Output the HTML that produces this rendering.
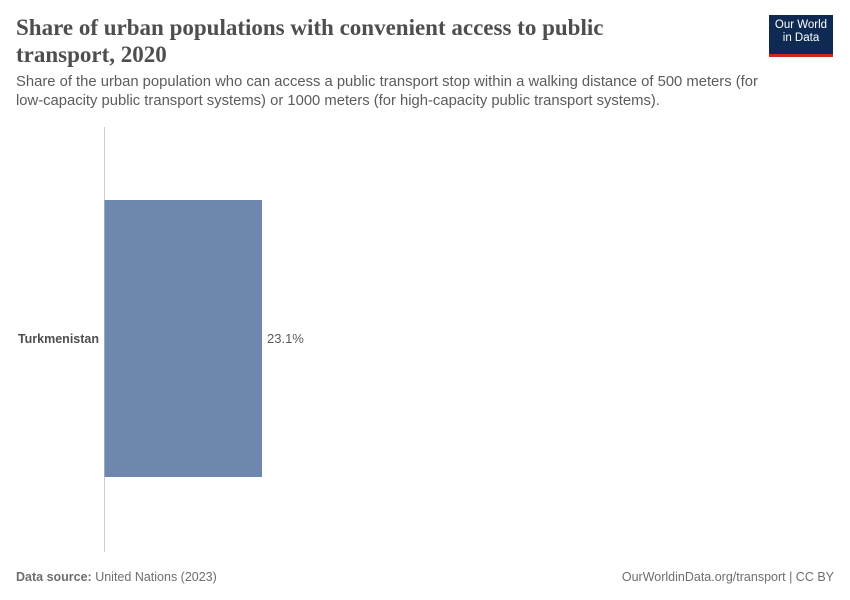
<!DOCTYPE html>
<html><head><meta charset="utf-8"><style>
body{margin:0;width:850px;height:600px;background:#fff;font-family:"Liberation Sans",sans-serif;position:relative;overflow:hidden}
.t{position:absolute;left:16px;top:14px;font-family:"Liberation Serif",serif;font-size:23px;font-weight:bold;color:#4e4e4e;line-height:27px;width:620px}
.s{position:absolute;left:16px;top:73px;font-size:14.8px;color:#5b5b5b;line-height:19px;width:780px}
.logo{position:absolute;left:769px;top:15px;width:64px;height:35px;background:#0f2a52;border-bottom:3px solid #ce261e;color:#fff;font-size:11.5px;line-height:13px;text-align:center;padding-top:4px;box-sizing:content-box}
.f{position:absolute;top:570px;font-size:12.5px;color:#6e6e6e}
</style></head><body>
<div class="t">Share of urban populations with convenient access to public<br>transport, 2020</div>
<div class="s">Share of the urban population who can access a public transport stop within a walking distance of 500 meters (for<br>low-capacity public transport systems) or 1000 meters (for high-capacity public transport systems).</div>
<div class="logo">Our World<br>in Data</div>
<svg id="c" width="850" height="600" style="position:absolute;left:0;top:0"></svg>
<div class="f" style="left:16px"><b>Data source:</b> United Nations (2023)</div>
<div class="f" style="right:16px">OurWorldinData.org/transport | CC BY</div>
<script>
const categories=["Turkmenistan"];
const values=[23.1];
const valueLabels=["23.1%"];
const svg=document.getElementById('c'),NS="http://www.w3.org/2000/svg";
const x0=104.5,pxPer=157.5/23.1;
const xs=v=>x0+v*pxPer;
const top0=200,bandH=277;
function mk(t,a){const e=document.createElementNS(NS,t);for(const k in a)e.setAttribute(k,a[k]);svg.appendChild(e);return e;}
const ax=mk('line',{x1:104.5,x2:104.5,y1:127,y2:552,stroke:'#ccc','stroke-width':1});


categories.forEach((c,i)=>{
 const y=top0+i*bandH;
 const r=mk('rect',{x:x0,y:y,width:xs(values[i])-x0,height:bandH,fill:'#6d87ae'});
 
 
 const l=mk('text',{x:99,y:y+bandH/2+4.5,'text-anchor':'end','font-size':12.5,'font-weight':'bold',fill:'#4e4e4e'});
 l.textContent=c;
 
 
 const v=mk('text',{x:xs(values[i])+5,y:y+bandH/2+4.5,'font-size':13,fill:'#5b5b5b'});
 v.textContent=valueLabels[i];
 
 
});
</script>
</body></html>
